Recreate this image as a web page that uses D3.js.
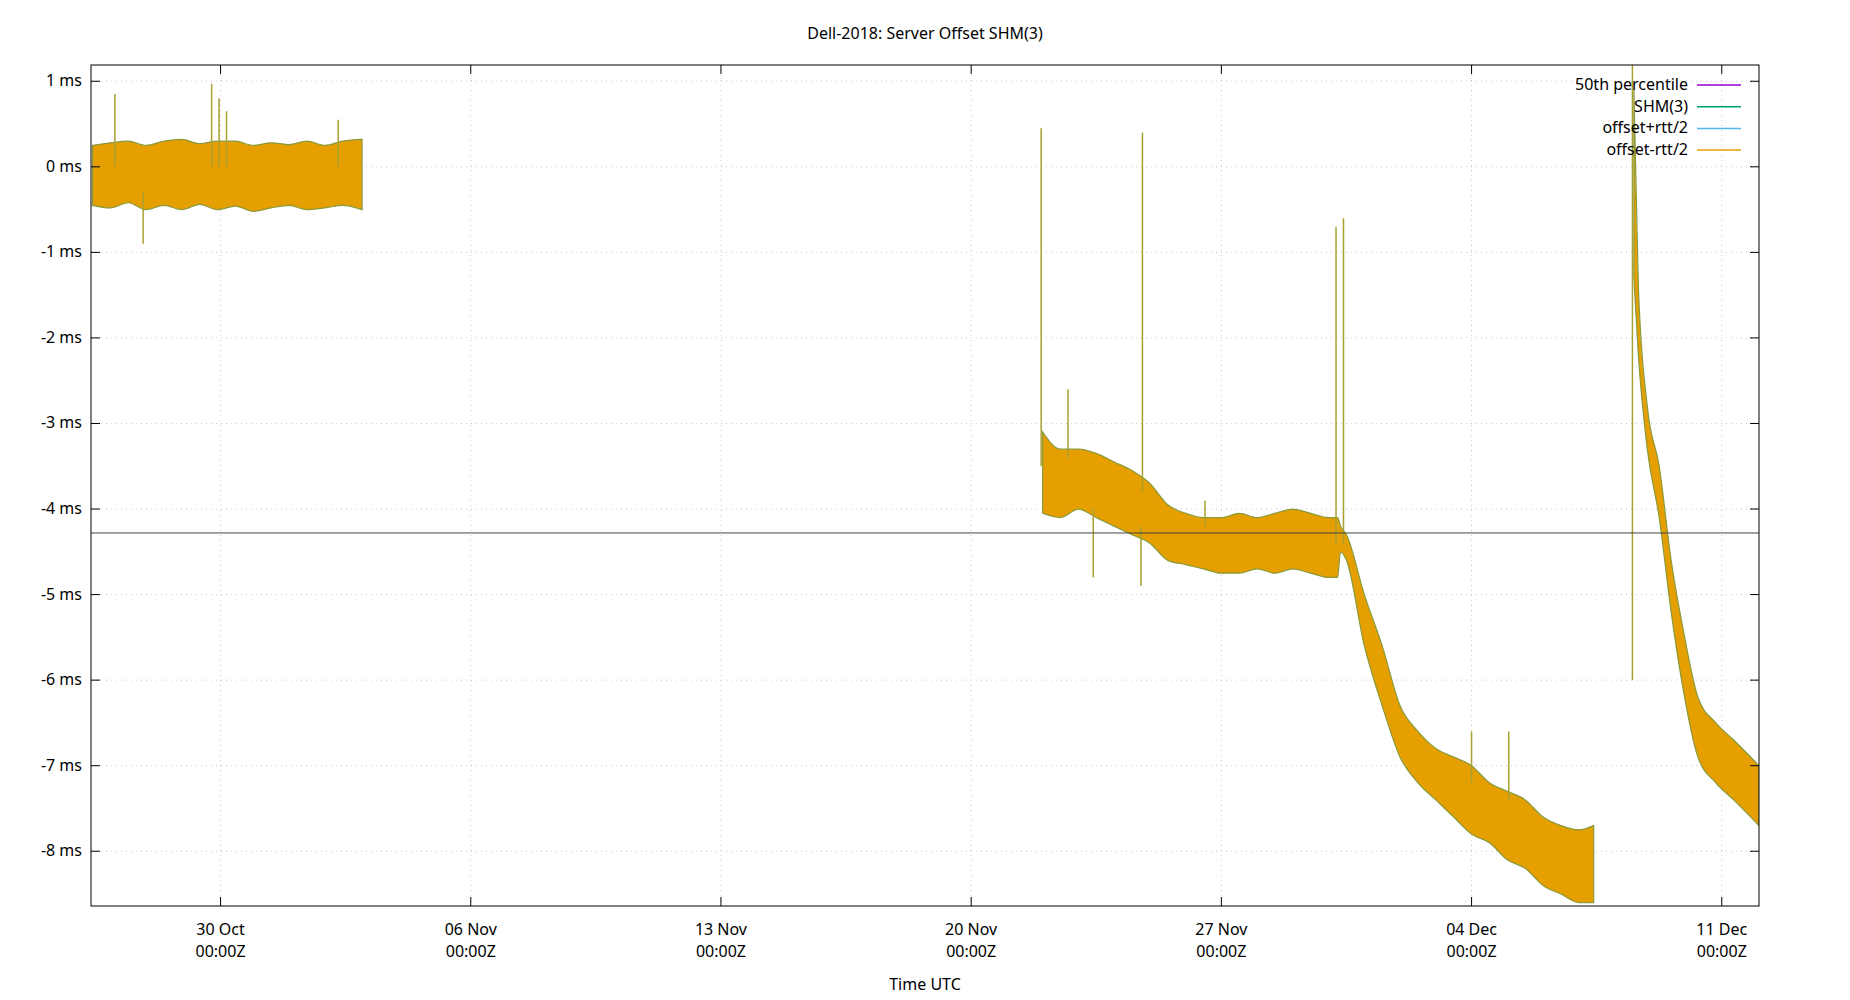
<!DOCTYPE html>
<html><head><meta charset="utf-8">
<script src="https://cdn.jsdelivr.net/npm/d3@7"></script>
<style>body{margin:0;background:#fff}text{font-family:"Noto Sans",sans-serif}</style>
</head><body><svg id="c" width="1850" height="1000"></svg>
<script>
const title = "Dell-2018: Server Offset SHM(3)";
const xTicks = ["2018-10-30","2018-11-06","2018-11-13","2018-11-20","2018-11-27","2018-12-04","2018-12-11"];
const yTicks = [1,0,-1,-2,-3,-4,-5,-6,-7,-8];
const median = -4.28;
const legendNames = ["50th percentile","SHM(3)","offset+rtt/2","offset-rtt/2"];
const legendColors = ["#9400d3","#009e73","#56b4e9","#e69f00"];
// band segments: [time, low, high]
const seg1 = [["2018-10-26T10",-0.45,0.25],["2018-10-26T22",-0.48,0.28],["2018-10-27T10",-0.42,0.3],["2018-10-27T22",-0.5,0.25],["2018-10-28T10",-0.45,0.3],["2018-10-28T22",-0.5,0.32],["2018-10-29T10",-0.44,0.27],["2018-10-29T22",-0.5,0.3],["2018-10-30T10",-0.46,0.3],["2018-10-30T22",-0.52,0.25],["2018-10-31T10",-0.48,0.28],["2018-10-31T22",-0.45,0.26],["2018-11-01T10",-0.5,0.3],["2018-11-01T22",-0.48,0.25],["2018-11-02T10",-0.45,0.3],["2018-11-02T23",-0.5,0.32]];
const seg2 = [["2018-11-22T00",-4.05,-3.1],["2018-11-22T12",-4.1,-3.3],["2018-11-23T00",-4.0,-3.3],["2018-11-23T12",-4.1,-3.35],["2018-11-24T00",-4.2,-3.45],["2018-11-24T12",-4.3,-3.55],["2018-11-25T00",-4.4,-3.7],["2018-11-25T12",-4.6,-3.95],["2018-11-26T00",-4.65,-4.05],["2018-11-26T12",-4.7,-4.1],["2018-11-27T00",-4.75,-4.1],["2018-11-27T12",-4.75,-4.05],["2018-11-28T00",-4.7,-4.1],["2018-11-28T12",-4.75,-4.05],["2018-11-29T00",-4.7,-4.0],["2018-11-29T12",-4.75,-4.05],["2018-11-30T00",-4.8,-4.1],["2018-11-30T06",-4.8,-4.1],["2018-11-30T08",-4.5,-4.2],["2018-11-30T12",-4.6,-4.3],["2018-12-01T00",-5.6,-5.0],["2018-12-01T12",-6.3,-5.6],["2018-12-02T00",-6.9,-6.3],["2018-12-02T12",-7.2,-6.6],["2018-12-03T00",-7.4,-6.8],["2018-12-03T12",-7.6,-6.9],["2018-12-04T00",-7.8,-7.0],["2018-12-04T12",-7.9,-7.2],["2018-12-05T00",-8.1,-7.3],["2018-12-05T12",-8.2,-7.4],["2018-12-06T00",-8.4,-7.6],["2018-12-06T12",-8.5,-7.7],["2018-12-07T00",-8.6,-7.75],["2018-12-07T10",-8.6,-7.7]];
const seg3 = [["2018-12-08T13",-1.3,0.9],["2018-12-08T16",-2.2,-1.4],["2018-12-08T22",-3.3,-2.8],["2018-12-09T06",-4.1,-3.5],["2018-12-09T14",-5.2,-4.6],["2018-12-09T22",-6.1,-5.4],["2018-12-10T08",-6.9,-6.2],["2018-12-10T20",-7.2,-6.5],["2018-12-11T08",-7.4,-6.7],["2018-12-12T01",-7.7,-7.0]];
// spikes: [time, base, peak]
const spikes = [["2018-10-27T01",0,0.85],["2018-10-29T18",0,0.97],["2018-10-29T23",0,0.8],["2018-10-30T04",0,0.65],["2018-10-27T20",-0.3,-0.9],["2018-11-02T07",0,0.55],["2018-11-21T23",-3.5,0.45],["2018-11-22T17",-3.4,-2.6],["2018-11-24T19",-3.8,0.4],["2018-11-23T10",-4.0,-4.8],["2018-11-24T18",-4.2,-4.9],["2018-11-26T13",-4.2,-3.9],["2018-11-30T05",-4.4,-0.7],["2018-11-30T10",-4.4,-0.6],["2018-12-04T00",-7.2,-6.6],["2018-12-05T01",-7.4,-6.6],["2018-12-08T12",-1.0,1.3],["2018-12-08T12",-1.0,-6.0]];

const svg = d3.select("#c");
const L=91,R=1759,T=65,B=906;
const p = d3.utcParse("%Y-%m-%dT%H"), pd = d3.utcParse("%Y-%m-%d");
const x = d3.scaleUtc().domain([p("2018-10-26T09"),p("2018-12-12T01")]).range([L,R]);
const y = d3.scaleLinear().domain([-8.64,1.19]).range([B,T]);
const fmt1 = d3.utcFormat("%d %b");
const g = svg.append("g");
yTicks.forEach(v=>g.append("line").attr("x1",L).attr("x2",R).attr("y1",y(v)).attr("y2",y(v)).attr("stroke","#c8c8c8").attr("stroke-dasharray","1,4"));
xTicks.forEach(t=>g.append("line").attr("x1",x(pd(t))).attr("x2",x(pd(t))).attr("y1",T).attr("y2",B).attr("stroke","#c8c8c8").attr("stroke-dasharray","1,4"));
svg.append("clipPath").attr("id","cl").append("rect").attr("x",L).attr("y",T).attr("width",R-L).attr("height",B-T);
const d = svg.append("g").attr("clip-path","url(#cl)");
[seg1,seg2,seg3].forEach(s=>{
  const area = d3.area().x(e=>x(p(e[0]))).y0(e=>y(e[1])).y1(e=>y(e[2])).curve(d3.curveMonotoneX);
  d.append("path").attr("d",area(s)).attr("fill","#e69f00").attr("stroke","#8a9a3a").attr("stroke-width",1.2);
});
spikes.forEach(s=>d.append("line").attr("x1",x(p(s[0]))).attr("x2",x(p(s[0]))).attr("y1",y(s[1])).attr("y2",y(s[2])).attr("stroke","#a8a030").attr("stroke-width",1.5));
svg.append("line").attr("x1",L).attr("x2",R).attr("y1",y(median)).attr("y2",y(median)).attr("stroke","#444").attr("stroke-width",1);
svg.append("rect").attr("x",L).attr("y",T).attr("width",R-L).attr("height",B-T).attr("fill","none").attr("stroke","#000");
yTicks.forEach(v=>{
  svg.append("line").attr("x1",L).attr("x2",L+9).attr("y1",y(v)).attr("y2",y(v)).attr("stroke","#000");
  svg.append("line").attr("x1",R-9).attr("x2",R).attr("y1",y(v)).attr("y2",y(v)).attr("stroke","#000");
  svg.append("text").attr("x",L-9).attr("y",y(v)+5).attr("text-anchor","end").attr("font-size",16).text(v+" ms");
});
xTicks.forEach(t=>{
  const xx=x(pd(t));
  svg.append("line").attr("x1",xx).attr("x2",xx).attr("y1",B).attr("y2",B-9).attr("stroke","#000");
  svg.append("line").attr("x1",xx).attr("x2",xx).attr("y1",T).attr("y2",T+9).attr("stroke","#000");
  svg.append("text").attr("x",xx).attr("y",935).attr("text-anchor","middle").attr("font-size",16).text(fmt1(pd(t)));
  svg.append("text").attr("x",xx).attr("y",957).attr("text-anchor","middle").attr("font-size",16).text("00:00Z");
});
svg.append("text").attr("x",(L+R)/2).attr("y",39).attr("text-anchor","middle").attr("font-size",16).text(title);
svg.append("text").attr("x",(L+R)/2).attr("y",990).attr("text-anchor","middle").attr("font-size",16).text("Time UTC");
legendNames.forEach((n,i)=>{
  const yy=85+i*21.7;
  svg.append("text").attr("x",1688).attr("y",yy+5).attr("text-anchor","end").attr("font-size",16).text(n);
  svg.append("line").attr("x1",1697).attr("x2",1741).attr("y1",yy).attr("y2",yy).attr("stroke",legendColors[i]).attr("stroke-width",1.5);
});
</script></body></html>
